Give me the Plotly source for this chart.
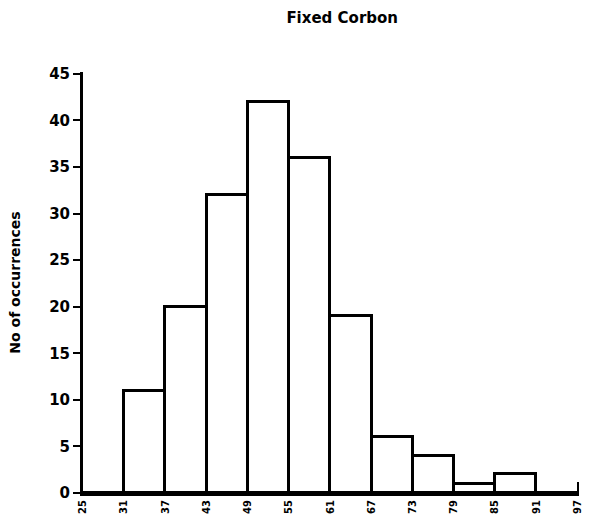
import plotly.graph_objects as go

# Histogram of fixed carbon values
bin_edges = [25, 31, 37, 43, 49, 55, 61, 67, 73, 79, 85, 91, 97]
counts = [0, 11, 20, 32, 42, 36, 19, 6, 4, 1, 2, 0]
y_ticks = [0, 5, 10, 15, 20, 25, 30, 35, 40, 45]
title_text = "Fixed Corbon"
y_title = "No of occurrences"

centers = [(a + b) / 2 for a, b in zip(bin_edges[:-1], bin_edges[1:])]
widths = [b - a for a, b in zip(bin_edges[:-1], bin_edges[1:])]

FONT = "DejaVu Sans"

fig = go.Figure(
    go.Bar(
        x=centers,
        y=counts,
        width=widths,
        marker=dict(color="white", line=dict(color="black", width=3)),
        showlegend=False,
        hoverinfo="x+y",
    )
)

fig.update_layout(
    width=590,
    height=527,
    margin=dict(l=83, r=7, t=72, b=34),
    paper_bgcolor="white",
    plot_bgcolor="white",
    title=dict(
        text=title_text,
        x=0.58,
        xanchor="center",
        y=0.966,
        yanchor="middle",
        font=dict(family=FONT, size=15, color="black", weight="bold"),
    ),
    bargap=0,
)

fig.update_xaxes(
    range=[bin_edges[0], bin_edges[-1] + 0.2],
    tickmode="array",
    tickvals=bin_edges,
    ticktext=[str(v) for v in bin_edges],
    tickangle=-90,
    ticks="inside",
    ticklen=11,
    tickwidth=2,
    tickcolor="black",
    showline=True,
    linecolor="black",
    linewidth=3,
    showgrid=False,
    zeroline=False,
    tickfont=dict(family=FONT, size=10, color="black", weight="bold"),
)

fig.update_yaxes(
    range=[0, 45.2],
    tickmode="array",
    tickvals=y_ticks,
    ticktext=[str(v) for v in y_ticks],
    ticks="outside",
    ticklen=7,
    tickwidth=2,
    tickcolor="black",
    showline=True,
    linecolor="black",
    linewidth=3,
    showgrid=False,
    zeroline=False,
    tickfont=dict(family=FONT, size=15, color="black", weight="bold"),
    title=dict(
        text=y_title,
        standoff=26,
        font=dict(family=FONT, size=14, color="black", weight="bold"),
    ),
)

fig.write_html("out.html")
